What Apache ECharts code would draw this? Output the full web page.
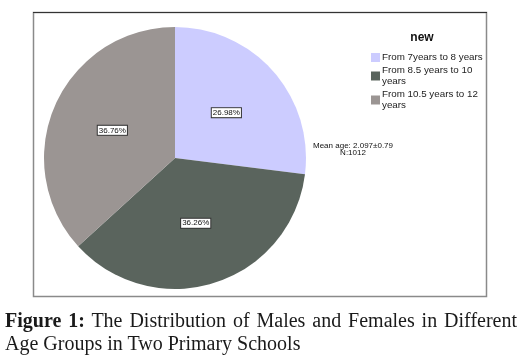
<!DOCTYPE html>
<html>
<head>
<meta charset="utf-8">
<script src="https://cdn.jsdelivr.net/npm/echarts@6/dist/echarts.min.js"></script>
<style>
html,body{margin:0;padding:0;background:#fff;}
#chart{position:absolute;left:0;top:0;width:523px;height:364px;}
#cap{position:absolute;left:5px;top:309px;width:512px;font-family:"Liberation Serif","Times New Roman",serif;font-size:20px;line-height:23px;color:#1a1a1a;text-align:justify;text-align-last:left;}
</style>
</head>
<body>
<div id="chart"></div>
<div id="cap"><b>Figure 1:</b> The Distribution of Males and Females in Different Age Groups in Two Primary Schools</div>
<script>
var categories = ["From 7years to 8 years", "From 8.5 years to 10 years", "From 10.5 years to 12 years"];
var legendLabels = ["From 7years to 8 years", "From 8.5 years to 10\nyears", "From 10.5 years to 12\nyears"];
var percentages = [26.98, 36.26, 36.76];
var colors = ["#ccccff", "#5a645d", "#9b9593"];
var legendTitle = "new";
var noteLines = ["Mean age: 2.097\u00b10.79", "N:1012"];

var chart = echarts.init(document.getElementById('chart'), null, {renderer: 'canvas'});
var data = categories.map(function (c, i) {
  return {name: c, value: percentages[i], itemStyle: {color: colors[i]}};
});
chart.setOption({
  animation: false,
  backgroundColor: '#fff',
  graphic: [
    {type: 'rect', shape: {x: 33.5, y: 12.5, width: 453, height: 284}, style: {fill: 'none', stroke: '#8a8a8a', lineWidth: 1.5}, z: 0},
    {type: 'line', shape: {x1: 33, y1: 12.5, x2: 487, y2: 12.5}, style: {stroke: '#333', lineWidth: 1}, z: 1},
    {type: 'text', x: 422, y: 38, style: {text: legendTitle, font: 'bold 12px "Liberation Sans", Arial, sans-serif', fill: '#111', textAlign: 'center', textVerticalAlign: 'middle'}},
    {type: 'text', x: 353, y: 142, style: {text: noteLines.join('\n'), font: '8px "Liberation Sans", Arial, sans-serif', lineHeight: 7.5, fill: '#111', textAlign: 'center', textVerticalAlign: 'top'}}
  ],
  legend: {
    orient: 'vertical',
    left: 366,
    top: 47,
    itemWidth: 9,
    itemHeight: 9,
    itemGap: 2,
    icon: 'rect',
    selectedMode: false,
    data: categories,
    formatter: function (name) { return legendLabels[categories.indexOf(name)]; },
    textStyle: {fontFamily: '"Liberation Sans", Arial, sans-serif', fontSize: 9.8, lineHeight: 11, color: '#222', padding: [0, 0, 0, -3]}
  },
  series: [{
    type: 'pie',
    center: [175, 158],
    radius: 131,
    startAngle: 90,
    clockwise: true,
    avoidLabelOverlap: false,
    data: data,
    itemStyle: {borderWidth: 0},
    label: {
      show: true,
      position: 'inside',
      formatter: function (p) { return p.value.toFixed(2) + '%'; },
      fontFamily: '"Liberation Sans", Arial, sans-serif',
      fontSize: 8,
      lineHeight: 8,
      color: '#111',
      backgroundColor: '#fff',
      borderColor: '#333',
      borderWidth: 1,
      padding: [1, 1, 0, 1]
    },
    labelLine: {show: false},
    emphasis: {disabled: true}
  }]
});
</script>
</body>
</html>
